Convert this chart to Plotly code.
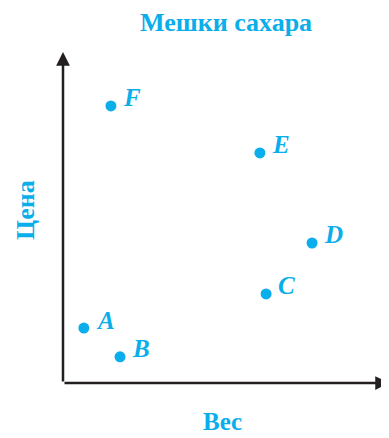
import plotly.graph_objects as go

labels = ["A", "B", "C", "D", "E", "F"]
weight = [0.64, 1.75, 6.23, 7.64, 6.04, 1.47]
price = [1.66, 0.79, 2.69, 4.23, 6.95, 8.37]

title_text = "Мешки сахара"
x_title = "Вес"
y_title = "Цена"

CYAN = "#0aaeea"
AXIS = "#231f20"
SERIF = "Liberation Serif, DejaVu Serif, serif"

# page body has an 8px margin; figure occupies the rest of the window
OFF = 8
W, H = 389 - OFF, 438 - OFF
L, R, T, B = 63 - OFF, 0, 52 - OFF, 55
pw, ph = W - L - R, H - T - B

fig = go.Figure()
fig.add_trace(go.Scatter(
    x=weight, y=price, mode="markers",
    marker=dict(size=11, color=CYAN),
    hoverinfo="skip", showlegend=False,
))

annotations = []
for lab, xv, yv in zip(labels, weight, price):
    annotations.append(dict(
        x=xv, y=yv, xref="x", yref="y", text="<b><i>" + lab + "</i></b>",
        showarrow=False, xanchor="left", yanchor="middle",
        xshift=10, yshift=8,
        font=dict(family=SERIF, size=25, color=CYAN),
    ))

# axis arrows
annotations.append(dict(x=10, y=0, ax=0, ay=0, xref="x", yref="y", axref="x", ayref="y",
                        showarrow=True, arrowhead=2, arrowsize=1.1, arrowwidth=2.5,
                        arrowcolor=AXIS, text=""))
annotations.append(dict(x=0, y=10, ax=0, ay=0, xref="x", yref="y", axref="x", ayref="y",
                        showarrow=True, arrowhead=2, arrowsize=1.1, arrowwidth=2.5,
                        arrowcolor=AXIS, text=""))

texts = [
    (title_text, 226, 22, 0, 26),
    (x_title, 222, 421, 0, 25),
    (y_title, 25, 210, -90, 26),
]
for t, px, py, ang, fs in texts:
    annotations.append(dict(
        x=(px - OFF - L) / pw, y=(H - B - (py - OFF)) / ph,
        xref="paper", yref="paper", text="<b>" + t + "</b>",
        textangle=ang, showarrow=False, xanchor="center", yanchor="middle",
        font=dict(family=SERIF, size=fs, color=CYAN),
    ))

fig.update_layout(
    width=W, height=H,
    margin=dict(l=L, r=R, t=T, b=B),
    paper_bgcolor="white", plot_bgcolor="white",
    xaxis=dict(range=[0, 10], visible=False, fixedrange=True),
    yaxis=dict(range=[0, 10], visible=False, fixedrange=True),
    annotations=annotations,
)

fig.write_html("out.html")
